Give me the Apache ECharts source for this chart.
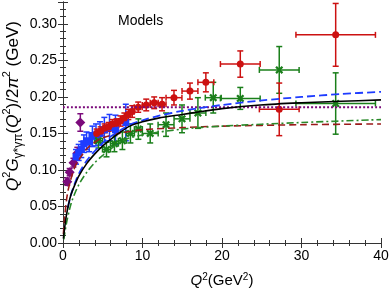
<!DOCTYPE html>
<html><head><meta charset="utf-8">
<script src="https://cdn.jsdelivr.net/npm/echarts@6/dist/echarts.min.js"></script>
<style>html,body{margin:0;padding:0;background:#fff}#c{width:390px;height:293px}</style>
</head><body><div id="c"></div>
<script>
// ---- data ----
const xTicks = [0, 10, 20, 30, 40];
const yTicks = [0.00, 0.05, 0.10, 0.15, 0.20, 0.25, 0.30];

// red circles (BaBar-like)
const redQ2  = [4.24, 4.74, 5.24, 5.74, 6.24, 6.74, 7.23, 7.72, 8.22, 8.71, 9.46, 10.47, 11.47, 12.46, 13.96, 15.97, 17.97, 22.3, 27.2, 34.3];
const redVal = [0.150, 0.153, 0.157, 0.159, 0.163, 0.164, 0.167, 0.171, 0.176, 0.180, 0.186, 0.189, 0.192, 0.190, 0.199, 0.208, 0.220, 0.245, 0.183, 0.285];
const redDQ  = [0.25, 0.25, 0.25, 0.25, 0.25, 0.25, 0.25, 0.25, 0.25, 0.25, 0.5, 0.5, 0.5, 0.5, 1.0, 1.0, 1.0, 2.5, 2.5, 5.0];
const redDV  = [0.006, 0.006, 0.006, 0.006, 0.006, 0.006, 0.007, 0.007, 0.007, 0.008, 0.007, 0.008, 0.008, 0.009, 0.010, 0.011, 0.013, 0.018, 0.036, 0.043];

// green stars (Belle-like)
const grnQ2  = [4.46, 5.47, 6.47, 7.47, 8.48, 9.48, 10.97, 12.96, 14.97, 16.97, 18.9, 22.3, 27.2, 34.3];
const grnVal = [0.140, 0.128, 0.136, 0.140, 0.150, 0.156, 0.150, 0.162, 0.170, 0.178, 0.199, 0.198, 0.237, 0.191];
const grnDQ  = [0.5, 0.5, 0.5, 0.5, 0.5, 0.5, 1.0, 1.0, 1.0, 1.0, 1.0, 2.5, 2.5, 5.0];
const grnDV  = [0.010, 0.010, 0.011, 0.012, 0.013, 0.014, 0.013, 0.016, 0.019, 0.021, 0.021, 0.015, 0.032, 0.042];

// blue squares (CLEO-like)
const bluQ2  = [1.64, 1.97, 2.30, 2.63, 2.96, 3.30, 3.70, 4.15, 4.65, 5.20, 5.85, 6.60, 7.90];
const bluVal = [0.118, 0.124, 0.128, 0.136, 0.140, 0.138, 0.146, 0.148, 0.150, 0.155, 0.158, 0.155, 0.165];
const bluDV  = [0.010, 0.011, 0.011, 0.012, 0.012, 0.013, 0.014, 0.015, 0.016, 0.017, 0.018, 0.020, 0.025];

// purple diamonds (CELLO-like)
const purQ2  = [0.54, 0.84, 1.31, 1.80, 2.18];
const purVal = [0.084, 0.097, 0.110, 0.123, 0.165];
const purDV  = [0.005, 0.005, 0.006, 0.008, 0.012];

// model curves
const blackQ2  = [0.05, 0.2, 0.4, 0.7, 1.0, 1.5, 2.0, 3.0, 4.0, 5.0, 6.0, 7.0, 8.4, 10, 12, 15, 16.8, 20, 24.8, 30, 35, 40];
const blackVal = [0.006, 0.020, 0.036, 0.053, 0.066, 0.080, 0.092, 0.109, 0.122, 0.133, 0.142, 0.150, 0.160, 0.166, 0.171, 0.176, 0.179, 0.184, 0.189, 0.192, 0.194, 0.196];
const blueQ2   = [0.6, 1.0, 1.5, 2.0, 3.0, 4.0, 5.0, 6.0, 8.4, 10, 12, 15, 16.8, 20, 24.8, 30, 35, 40];
const blueVal  = [0.048, 0.066, 0.082, 0.095, 0.113, 0.126, 0.137, 0.146, 0.162, 0.168, 0.174, 0.181, 0.184, 0.189, 0.195, 0.200, 0.204, 0.207];
const dredQ2   = [0.05, 0.2, 0.4, 0.6, 1.0, 1.5, 2.0, 3.0, 4.0, 5.0, 7.5, 10, 15, 20, 30, 40];
const dredVal  = [0.012, 0.035, 0.055, 0.070, 0.088, 0.104, 0.114, 0.129, 0.138, 0.144, 0.151, 0.155, 0.158, 0.160, 0.162, 0.163];
const dgrnQ2   = [0.1, 0.4, 0.8, 1.2, 2.0, 3.0, 4.0, 5.0, 7.5, 10, 15, 20, 30, 40];
const dgrnVal  = [0.005, 0.025, 0.045, 0.060, 0.080, 0.097, 0.110, 0.120, 0.140, 0.148, 0.156, 0.160, 0.165, 0.169];
const purLineQ2  = [0, 40];
const purLineVal = [0.186, 0.186];

// ---- build ----
const C = {red:'#cc1111', grn:'#1a7f1a', blu:'#1e3cff', pur:'#7b0a7b', dred:'#9a1a1a', dgrn:'#2a8a2a'};
function errData(q, v, dq, dv){
  return q.map((x,i)=>[x, v[i], x-(dq?dq[i]:0), x+(dq?dq[i]:0), v[i]-dv[i], v[i]+dv[i]]);
}
function pts(q,v){ return q.map((x,i)=>[x,v[i]]); }
function errSeries(data, color){
  return {type:'custom', data:data, z:2, clip:false,
    renderItem:function(params, api){
      const x=api.value(0), y=api.value(1);
      const a=api.coord([api.value(2),y]), b=api.coord([api.value(3),y]);
      const c=api.coord([x,api.value(4)]), d=api.coord([x,api.value(5)]);
      const st={stroke:color, lineWidth:1.5};
      const cap=3, ch=[];
      if (b[0]-a[0] > 0.5){
        ch.push({type:'line', shape:{x1:a[0],y1:a[1],x2:b[0],y2:b[1]}, style:st});
        ch.push({type:'line', shape:{x1:a[0],y1:a[1]-cap,x2:a[0],y2:a[1]+cap}, style:st});
        ch.push({type:'line', shape:{x1:b[0],y1:b[1]-cap,x2:b[0],y2:b[1]+cap}, style:st});
      }
      ch.push({type:'line', shape:{x1:c[0],y1:c[1],x2:d[0],y2:d[1]}, style:st});
      ch.push({type:'line', shape:{x1:c[0]-cap,y1:c[1],x2:c[0]+cap,y2:c[1]}, style:st});
      ch.push({type:'line', shape:{x1:d[0]-cap,y1:d[1],x2:d[0]+cap,y2:d[1]}, style:st});
      return {type:'group', children:ch};
    }};
}
function mark(q,v,color,symbol,size){
  return {type:'scatter', data:pts(q,v), symbol:symbol, symbolSize:size, z:3,
    itemStyle:{color:color, opacity:1}, emphasis:{disabled:true}};
}
function curve(q,v,color,type,width){
  return {type:'line', data:pts(q,v), showSymbol:false, smooth:0.3, z:4,
    lineStyle:{color:color, width:width||1.6, type:type}, emphasis:{disabled:true}};
}
const xStar = 'path://M2,0 L5,3 L8,0 L10,2 L7,5 L10,8 L8,10 L5,7 L2,10 L0,8 L3,5 L0,2 Z';
const F = 'Liberation Sans, Arial, sans-serif';
const axisCommon = {
  axisLine:{show:true, lineStyle:{color:'#333', width:1}},
  axisTick:{show:true, inside:true, length:5, lineStyle:{color:'#333'}},
  minorTick:{show:true, splitNumber:5, length:3, lineStyle:{color:'#333'}},
  splitLine:{show:false}
};
const yFmt = v => yTicks.some(t=>Math.abs(t-v)<1e-6) ? v.toFixed(2) : '';
const xFmt = v => xTicks.indexOf(v)>=0 ? String(v) : '';
const yRich = {i:{fontStyle:'italic',fontSize:17,fontFamily:F,fill:'#000',lineHeight:24},
  n:{fontSize:17,fontFamily:F,fill:'#000',lineHeight:24},
  sup:{fontSize:11,fontFamily:F,fill:'#000',verticalAlign:'top',lineHeight:24},
  sub:{fontSize:12,fontFamily:F,fill:'#000',verticalAlign:'bottom',lineHeight:24}};
const option = {
  animation:false,
  grid:{left:63, right:9, top:2, bottom:50, containLabel:false, outerBoundsMode:'none'},
  xAxis:[
    Object.assign({type:'value', min:0, max:40, interval:10, position:'bottom',
      name:'{i|Q}{sup|2}{n|(GeV}{sup|2}{n|)}', nameLocation:'middle', nameGap:29,
      nameTextStyle:{rich:{i:{fontStyle:'italic',fontSize:15,fontFamily:F,color:'#000',lineHeight:18},
        n:{fontSize:15,fontFamily:F,color:'#000',lineHeight:18},
        sup:{fontSize:10,fontFamily:F,color:'#000',verticalAlign:'top',lineHeight:18}}},
      axisLabel:{formatter:xFmt, fontSize:14, fontFamily:F, color:'#000', margin:6}}, axisCommon),
    Object.assign({type:'value', min:0, max:40, interval:10, position:'top', axisLabel:{show:false}}, axisCommon)
  ],
  yAxis:[
    Object.assign({type:'value', min:0, max:0.33, interval:0.05, position:'left',
      axisLabel:{formatter:yFmt, fontSize:14, fontFamily:F, color:'#000', margin:6}}, axisCommon),
    Object.assign({type:'value', min:0, max:0.33, interval:0.05, position:'right', axisLabel:{show:false}}, axisCommon)
  ],
  graphic:[
    {type:'text', left:118, top:14, style:{text:'Models', fontSize:14, fontFamily:F, fill:'#000'}},
    {type:'text', x:13, y:106, rotation:Math.PI/2,
      style:{text:'{i|Q}{sup|2}{i|G}{sub|γ*γπ}{n|(}{i|Q}{sup|2}{n|)/2}{i|π}{sup|2}{n| (GeV)}',
        rich:yRich, align:'center', verticalAlign:'middle'}}
  ],
  series:[
    errSeries(errData(purQ2,purVal,null,purDV), C.pur),
    errSeries(errData(bluQ2,bluVal,null,bluDV), C.blu),
    errSeries(errData(grnQ2,grnVal,grnDQ,grnDV), C.grn),
    errSeries(errData(redQ2,redVal,redDQ,redDV), C.red),
    mark(purQ2,purVal,C.pur,'diamond',10),
    mark(bluQ2,bluVal,C.blu,'rect',7),
    mark(grnQ2,grnVal,C.grn,xStar,8),
    mark(redQ2,redVal,C.red,'circle',7),
    curve(purLineQ2,purLineVal,C.pur,[2,2],2),
    curve(dredQ2,dredVal,C.dred,[7,4],1.6),
    curve(dgrnQ2,dgrnVal,C.dgrn,[7,3,2,3],1.6),
    curve(blueQ2,blueVal,C.blu,[8,4],1.8),
    curve(blackQ2,blackVal,'#000','solid',1.6)
  ]
};
echarts.init(document.getElementById('c')).setOption(option);
</script></body></html>
